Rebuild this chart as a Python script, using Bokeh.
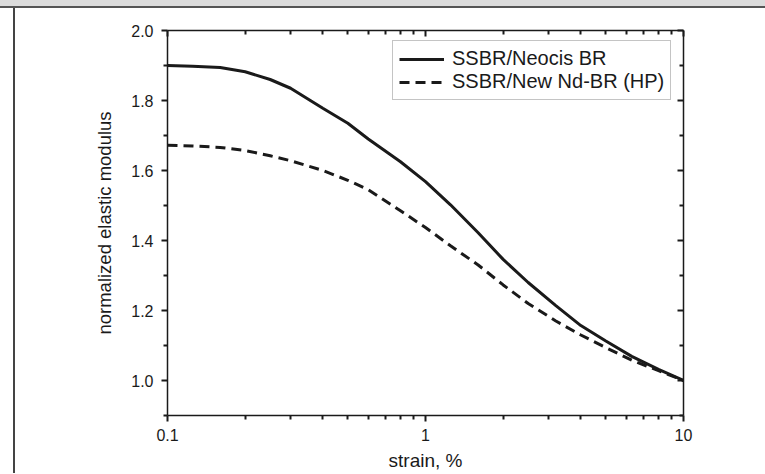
from bokeh.plotting import figure
from bokeh.layouts import column, row
from bokeh.models import (FixedTicker, LogAxis, LinearAxis, PrintfTickFormatter,
                          CustomJSTickFormatter, Legend, LegendItem, Div)
from bokeh.embed import file_html
from bokeh.resources import INLINE

# ---- data ----
strain = [0.1, 0.125, 0.16, 0.2, 0.25, 0.3, 0.4, 0.5, 0.6, 0.8, 1.0,
          1.25, 1.6, 2.0, 2.5, 3.2, 4.0, 5.0, 6.3, 8.0, 10.0]
neocis_br = [1.900, 1.898, 1.894, 1.882, 1.860, 1.835, 1.778, 1.735, 1.690, 1.625, 1.568,
             1.502, 1.422, 1.346, 1.280, 1.214, 1.157, 1.113, 1.069, 1.032, 1.000]
new_nd_br = [1.672, 1.670, 1.666, 1.657, 1.642, 1.628, 1.600, 1.572, 1.545, 1.485, 1.437,
             1.385, 1.330, 1.273, 1.220, 1.170, 1.130, 1.094, 1.058, 1.028, 1.000]
series_names = ["SSBR/Neocis BR", "SSBR/New Nd-BR (HP)"]
x_major = [0.1, 1, 10]
x_minor = [0.2, 0.3, 0.4, 0.5, 0.6, 0.7, 0.8, 0.9, 2, 3, 4, 5, 6, 7, 8, 9]
y_major = [1.0, 1.2, 1.4, 1.6, 1.8, 2.0]
y_minor = [0.9, 1.1, 1.3, 1.5, 1.7, 1.9]
x_label = "strain, %"
y_label = "normalized elastic modulus"

FONT = "Liberation Sans"
INK = "#1a1a1a"

p = figure(width=750, height=465, x_axis_type="log",
           x_range=(0.1, 10), y_range=(0.9, 2.0),
           output_backend="svg", toolbar_location=None,
           min_border_left=152, min_border_right=82,
           min_border_top=22, min_border_bottom=58)
p.outline_line_color = None
p.xgrid.visible = False
p.ygrid.visible = False
p.background_fill_color = "white"
p.border_fill_color = "white"

r1 = p.line(strain, neocis_br, line_color=INK, line_width=3)
r2 = p.line(strain, new_nd_br, line_color=INK, line_width=3, line_dash="10 6")


def style_axis(ax, inward):
    ax.axis_line_color = INK
    ax.axis_line_width = 1.5
    ax.major_tick_line_color = INK
    ax.minor_tick_line_color = INK
    ax.major_tick_line_width = 2
    ax.minor_tick_line_width = 2
    ax.major_tick_out = 0
    ax.minor_tick_out = 0
    if inward:
        ax.major_tick_in = 6
        ax.minor_tick_in = 4
    else:
        # outward ticks drawn through a negative inward length
        ax.major_tick_in = -6
        ax.minor_tick_in = -4
    ax.major_label_text_font = FONT
    ax.major_label_text_font_size = "16px"
    ax.major_label_text_color = INK
    ax.axis_label_text_font = FONT
    ax.axis_label_text_font_size = "19px"
    ax.axis_label_text_font_style = "normal"
    ax.axis_label_text_color = INK


xa = p.xaxis[0]
xa.ticker = FixedTicker(ticks=x_major, minor_ticks=x_minor)
xa.formatter = CustomJSTickFormatter(code="return String(tick);")
xa.axis_label = x_label
style_axis(xa, False)
xa.major_label_standoff = 13
xa.axis_label_standoff = 6

ya = p.yaxis[0]
ya.ticker = FixedTicker(ticks=y_major, minor_ticks=y_minor)
ya.formatter = PrintfTickFormatter(format="%.1f")
ya.axis_label = y_label
style_axis(ya, False)
ya.axis_label_text_font_size = "18.5px"
ya.major_label_standoff = 14
ya.axis_label_standoff = 13

top = LogAxis(ticker=FixedTicker(ticks=x_major, minor_ticks=x_minor))
style_axis(top, True)
top.major_label_text_alpha = 0
top.major_label_text_font_size = "1px"
p.add_layout(top, "above")

right = LinearAxis(ticker=FixedTicker(ticks=y_major, minor_ticks=y_minor))
style_axis(right, True)
right.major_label_text_alpha = 0
right.major_label_text_font_size = "1px"
p.add_layout(right, "right")

legend = Legend(items=[LegendItem(label=series_names[0], renderers=[r1]),
                       LegendItem(label=series_names[1], renderers=[r2])],
                location=(225, 315))
legend.label_text_font = FONT
legend.label_text_font_size = "20px"
legend.label_text_color = INK
legend.glyph_width = 45
legend.glyph_height = 20
legend.label_height = 20
legend.label_standoff = 8
legend.padding = 6
legend.spacing = 0
legend.margin = 0
legend.border_line_color = "#8a8a8a"
legend.border_line_width = 1
legend.background_fill_color = "white"
legend.background_fill_alpha = 1
p.add_layout(legend, "center")

# scanned-page frame: grey band with dark rule on top, dark rule on the left
band = Div(text="", width=765, height=6, margin=0,
           styles={"background-color": "#dcdcdc"})
rule_top = Div(text="", width=765, height=2, margin=0,
               styles={"background-color": "#555555"})
gap_left = Div(text="", width=13, height=465, margin=0,
               styles={"background-color": "white"})
rule_left = Div(text="", width=2, height=465, margin=0,
                styles={"background-color": "#444444"})

layout = column(band, rule_top, row(gap_left, rule_left, p, spacing=0), spacing=0)

open("out.html", "w").write(file_html(layout, INLINE))
